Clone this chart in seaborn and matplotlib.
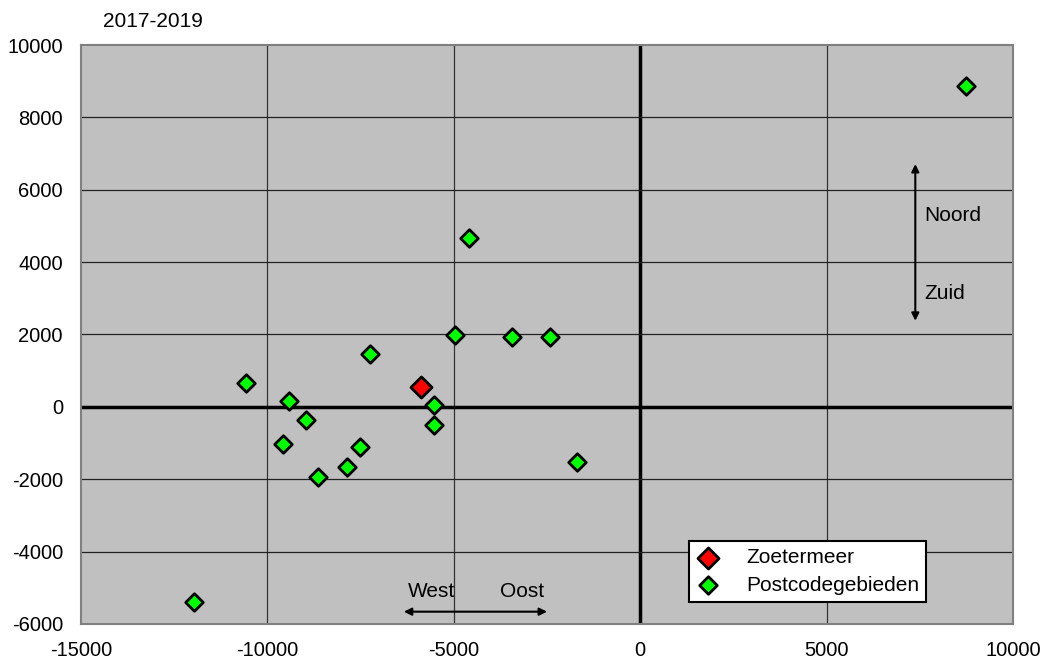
import matplotlib
matplotlib.use("Agg")
import matplotlib.pyplot as plt
import seaborn as sns
import pandas as pd

# Data
post_x = [8750, -4600, -10570, -9430, -8960, -9590, -8640, -7870, -7510, -7250,
          -5530, -5530, -4960, -3450, -2420, -1690, -11960]
post_y = [8870, 4680, 655, 165, -370, -1020, -1930, -1660, -1120, 1455,
          55, -490, 1990, 1940, 1940, -1510, -5390]
zoet_x = [-5890]
zoet_y = [545]
series_names = ["Zoetermeer", "Postcodegebieden"]
x_ticks = [-15000, -10000, -5000, 0, 5000, 10000]
y_ticks = [-6000, -4000, -2000, 0, 2000, 4000, 6000, 8000, 10000]
title = "2017-2019"

df = pd.DataFrame({
    "x": zoet_x + post_x,
    "y": zoet_y + post_y,
    "reeks": [series_names[0]] * len(zoet_x) + [series_names[1]] * len(post_x),
})

sns.set_theme(style="white")
plt.rcParams["font.family"] = ["Liberation Sans", "DejaVu Sans"]
plt.rcParams["text.color"] = "black"

FS = 15

fig = plt.figure(figsize=(10.47, 6.66), dpi=100)
ax = fig.add_axes([0.0774, 0.0631, 0.8901, 0.8693])
ax.set_facecolor("#C0C0C0")

# grid lines
for xv in x_ticks:
    if xv == 0:
        ax.axvline(0, color="black", lw=2.5, zorder=1)
    elif xv not in (x_ticks[0], x_ticks[-1]):
        ax.axvline(xv, color="#333333", lw=0.9, zorder=1)
for yv in y_ticks:
    if yv == 0:
        ax.axhline(0, color="black", lw=2.5, zorder=1)
    elif yv not in (y_ticks[0], y_ticks[-1]):
        ax.axhline(yv, color="#222222", lw=0.9, zorder=1)

sns.scatterplot(data=df[df.reeks == series_names[1]], x="x", y="y", ax=ax,
                marker="D", s=80, color="#00FF00", edgecolor="black",
                linewidth=2.0, zorder=3, label=series_names[1], legend=False)
sns.scatterplot(data=df[df.reeks == series_names[0]], x="x", y="y", ax=ax,
                marker="D", s=115, color="#FF0000", edgecolor="black",
                linewidth=2.0, zorder=4, label=series_names[0], legend=False)

ax.set_xlim(x_ticks[0], x_ticks[-1])
ax.set_ylim(y_ticks[0], y_ticks[-1])
ax.set_xticks(x_ticks)
ax.set_yticks(y_ticks)
ax.set_xticklabels([str(v) for v in x_ticks])
ax.set_yticklabels([str(v) for v in y_ticks])
ax.tick_params(axis="both", length=0, labelsize=14.5, colors="black")
ax.tick_params(axis="x", pad=12)
ax.tick_params(axis="y", pad=13)
ax.set_xlabel("")
ax.set_ylabel("")
for sp in ax.spines.values():
    sp.set_color("#808080")
    sp.set_linewidth(1.5)
    sp.set_visible(True)

fig.text(0.098, 0.967, title, fontsize=FS, ha="left", va="center", color="black")

# arrows
ax.annotate("", xy=(-6340, -5660), xytext=(-2500, -5660),
            arrowprops=dict(arrowstyle="<|-|>", color="black", lw=1.5,
                            mutation_scale=11, shrinkA=0, shrinkB=0), zorder=5)
ax.text(-5590, -5110, "West", fontsize=FS, ha="center", va="center", color="black")
ax.text(-3160, -5110, "Oost", fontsize=FS, ha="center", va="center", color="black")
ax.annotate("", xy=(7380, 6710), xytext=(7380, 2380),
            arrowprops=dict(arrowstyle="<|-|>", color="black", lw=1.5,
                            mutation_scale=11, shrinkA=0, shrinkB=0), zorder=5)
ax.text(7620, 5300, "Noord", fontsize=FS, ha="left", va="center", color="black")
ax.text(7620, 3120, "Zuid", fontsize=FS, ha="left", va="center", color="black")

# legend
handles, labels = ax.get_legend_handles_labels()
order = [labels.index(series_names[0]), labels.index(series_names[1])]
leg = ax.legend([handles[i] for i in order], [labels[i] for i in order],
                loc="upper left", bbox_to_anchor=(0.652, 0.1434),
                bbox_transform=ax.transAxes,
                frameon=True, fancybox=False, fontsize=FS,
                handletextpad=1.2, borderpad=0.35, labelspacing=0.4,
                borderaxespad=0, handlelength=1.2)
leg.get_frame().set_facecolor("white")
leg.get_frame().set_edgecolor("black")
leg.get_frame().set_linewidth(1.5)
leg.get_frame().set_alpha(1)
for t in leg.get_texts():
    t.set_color("black")

fig.savefig("out.png", dpi=100)
